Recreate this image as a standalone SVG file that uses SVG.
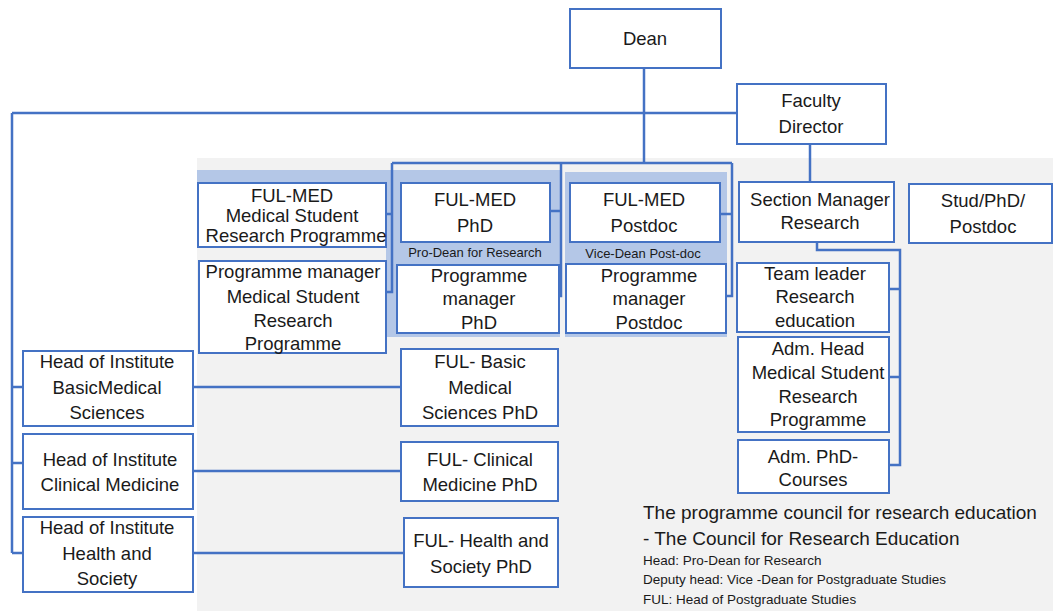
<svg xmlns="http://www.w3.org/2000/svg" width="1053" height="611" viewBox="0 0 1053 611">
<style>
.bx{fill:#fff;stroke:#4472C4;stroke-width:2}
.ln{fill:none;stroke:#4472C4;stroke-width:2.5}
.t{font-family:"Liberation Sans",Arial,sans-serif;font-size:18.5px;fill:#1a1a1a;text-anchor:middle}
.s{font-family:"Liberation Sans",Arial,sans-serif;font-size:13px;fill:#1a1a1a;text-anchor:middle}
.n1{font-family:"Liberation Sans",Arial,sans-serif;font-size:19px;fill:#1a1a1a}
.n2{font-family:"Liberation Sans",Arial,sans-serif;font-size:13.5px;fill:#1a1a1a}
</style>
<rect x="0" y="0" width="1053" height="611" fill="#fff"/>
<rect x="197" y="158" width="856" height="453" fill="#F2F2F2"/>
<rect x="197" y="170" width="190" height="78" fill="#B4C7E7"/>
<rect x="386" y="170" width="174" height="167" fill="#B4C7E7"/>
<rect x="565" y="172" width="162" height="165" fill="#B4C7E7"/>
<g id="connectors">
<path class="ln" d="M644,68 V163"/>
<path class="ln" d="M12,113 H737"/>
<path class="ln" d="M810,144 V182"/>
<path class="ln" d="M12,113 V553"/>
<path class="ln" d="M12,387 H23 M12,463 H23 M12,553 H23"/>
<path class="ln" d="M193,387 H401 M193,471 H401 M193,553 H404"/>
<path class="ln" d="M392,163 H732"/>
<path class="ln" d="M386,214 H392 V292 H386 M392,163 V214"/>
<path class="ln" d="M550,211 H561 M561,163 V296 H558"/>
<path class="ln" d="M720,214 H732 M732,163 V296 H726"/>
<path class="ln" d="M817,242 V250 H900 V465 H889 M889,289 H900 M889,377 H900"/>
</g>
<g id="dean"><rect class="bx" x="570" y="9" width="151" height="59"/><text class="t" x="645" y="45">Dean</text></g>
<g id="faculty-director"><rect class="bx" x="737" y="84" width="149" height="60"/><text class="t" x="811" y="107">Faculty</text><text class="t" x="811" y="133">Director</text></g>
<g id="ful-med-msrp"><rect class="bx" x="198" y="183" width="188" height="64"/><text class="t" x="292" y="202">FUL-MED</text><text class="t" x="292" y="222">Medical Student</text><text class="t" x="296" y="242">Research Programme</text></g>
<g id="pm-msrp"><rect class="bx" x="199" y="261" width="187" height="92"/><text class="t" x="293" y="278">Programme manager</text><text class="t" x="293" y="303">Medical Student</text><text class="t" x="293" y="327">Research</text><text class="t" x="293" y="350">Programme</text></g>
<g id="ful-med-phd"><rect class="bx" x="401" y="183" width="149" height="59"/><text class="t" x="475" y="206">FUL-MED</text><text class="t" x="475" y="232">PhD</text></g>
<g id="pro-dean-label"><text class="s" x="475" y="257">Pro-Dean for Research</text></g>
<g id="pm-phd"><rect class="bx" x="397" y="265" width="162" height="68"/><text class="t" x="479" y="282">Programme</text><text class="t" x="479" y="305">manager</text><text class="t" x="479" y="329">PhD</text></g>
<g id="ful-med-postdoc"><rect class="bx" x="570" y="183" width="150" height="59"/><text class="t" x="644" y="206">FUL-MED</text><text class="t" x="644" y="232">Postdoc</text></g>
<g id="vice-dean-label"><text class="s" x="643" y="258">Vice-Dean Post-doc</text></g>
<g id="pm-postdoc"><rect class="bx" x="566" y="264" width="160" height="69"/><text class="t" x="649" y="282">Programme</text><text class="t" x="649" y="305">manager</text><text class="t" x="649" y="329">Postdoc</text></g>
<g id="section-manager"><rect class="bx" x="739" y="182" width="155" height="60"/><text class="t" x="820" y="206">Section Manager</text><text class="t" x="820" y="229">Research</text></g>
<g id="stud-phd-postdoc"><rect class="bx" x="909" y="184" width="143" height="59"/><text class="t" x="983" y="207">Stud/PhD/</text><text class="t" x="983" y="233">Postdoc</text></g>
<g id="team-leader"><rect class="bx" x="737" y="263" width="152" height="69"/><text class="t" x="815" y="280">Team leader</text><text class="t" x="815" y="303">Research</text><text class="t" x="815" y="327">education</text></g>
<g id="adm-head"><rect class="bx" x="738" y="337" width="151" height="95"/><text class="t" x="818" y="355">Adm. Head</text><text class="t" x="818" y="379">Medical Student</text><text class="t" x="818" y="403">Research</text><text class="t" x="818" y="426">Programme</text></g>
<g id="adm-phd"><rect class="bx" x="738" y="440" width="151" height="53"/><text class="t" x="813" y="463">Adm. PhD-</text><text class="t" x="813" y="486">Courses</text></g>
<g id="hoi-basic"><rect class="bx" x="23" y="351" width="170" height="75"/><text class="t" x="107" y="368">Head of Institute</text><text class="t" x="107" y="394">BasicMedical</text><text class="t" x="107" y="419">Sciences</text></g>
<g id="hoi-clinical"><rect class="bx" x="23" y="434" width="170" height="75"/><text class="t" x="110" y="466">Head of Institute</text><text class="t" x="110" y="491">Clinical Medicine</text></g>
<g id="hoi-health"><rect class="bx" x="23" y="517" width="170" height="75"/><text class="t" x="107" y="534">Head of Institute</text><text class="t" x="107" y="560">Health and</text><text class="t" x="107" y="585">Society</text></g>
<g id="ful-basic"><rect class="bx" x="401" y="349" width="157" height="77"/><text class="t" x="480" y="368">FUL- Basic</text><text class="t" x="480" y="394">Medical</text><text class="t" x="480" y="419">Sciences PhD</text></g>
<g id="ful-clinical"><rect class="bx" x="401" y="442" width="157" height="59"/><text class="t" x="480" y="466">FUL- Clinical</text><text class="t" x="480" y="491">Medicine PhD</text></g>
<g id="ful-health"><rect class="bx" x="404" y="518" width="154" height="69"/><text class="t" x="481" y="547">FUL- Health and</text><text class="t" x="481" y="573">Society PhD</text></g>
<g id="council-note">
<text class="n1" x="643" y="519">The programme council for research education</text>
<text class="n1" x="643" y="545">- The Council for Research Education</text>
<text class="n2" x="643" y="565">Head: Pro-Dean for Research</text>
<text class="n2" x="643" y="584">Deputy head: Vice -Dean for Postgraduate Studies</text>
<text class="n2" x="643" y="604" fill="#404040">FUL: Head of Postgraduate Studies</text>
</g>
</svg>
